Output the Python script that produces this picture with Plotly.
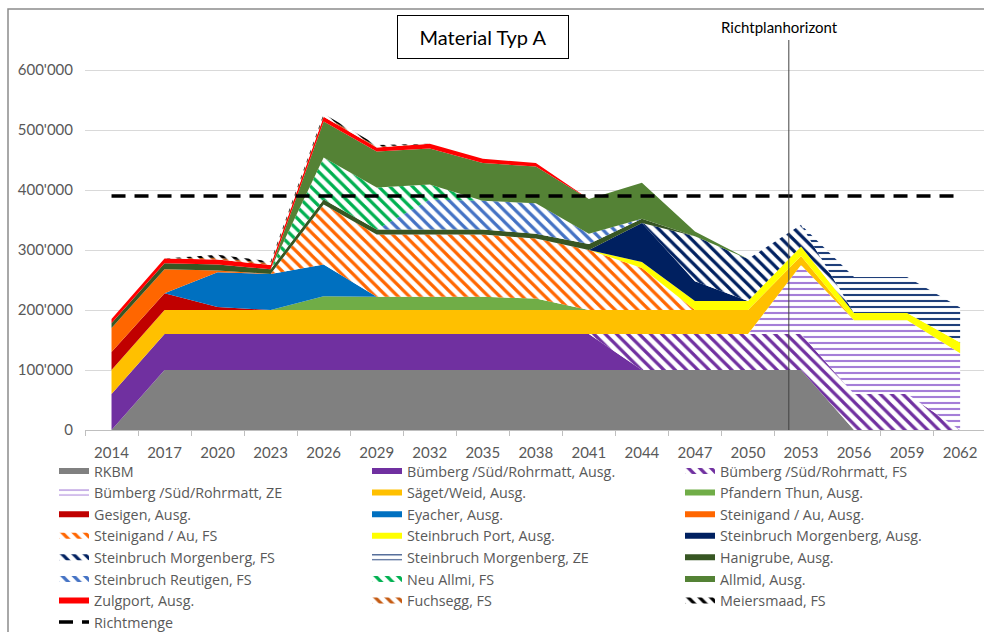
import plotly.graph_objects as go

years = ["2014", "2017", "2020", "2023", "2026", "2029", "2032", "2035", "2038",
         "2041", "2044", "2047", "2050", "2053", "2056", "2059", "2062"]

rkbm            = [0, 100000, 100000, 100000, 100000, 100000, 100000, 100000, 100000, 100000, 100000, 100000, 100000, 100000, 0, 0, 0]
bumberg_ausg    = [60000, 60000, 60000, 60000, 60000, 60000, 60000, 60000, 60000, 60000, 0, 0, 0, 0, 0, 0, 0]
bumberg_fs      = [0, 0, 0, 0, 0, 0, 0, 0, 0, 0, 60000, 60000, 60000, 60000, 60000, 60000, 0]
bumberg_ze      = [0, 0, 0, 0, 0, 0, 0, 0, 0, 0, 0, 0, 0, 115000, 123000, 123000, 128000]
saeget          = [40000, 40000, 40000, 40000, 40000, 40000, 40000, 40000, 40000, 40000, 40000, 40000, 40000, 15000, 0, 0, 0]
pfandern        = [0, 0, 0, 0, 23000, 22000, 22000, 22000, 19000, 0, 0, 0, 0, 0, 0, 0, 0]
gesigen         = [30000, 28000, 5000, 0, 0, 0, 0, 0, 0, 0, 0, 0, 0, 0, 0, 0, 0]
eyacher         = [0, 0, 58000, 60000, 53000, 0, 0, 0, 0, 0, 0, 0, 0, 0, 0, 0, 0]
steinigand_ausg = [40000, 40000, 3000, 0, 0, 0, 0, 0, 0, 0, 0, 0, 0, 0, 0, 0, 0]
steinigand_fs   = [0, 0, 0, 0, 100000, 104000, 104000, 104000, 100000, 100000, 70000, 0, 0, 0, 0, 0, 0]
port            = [0, 0, 0, 0, 0, 0, 0, 0, 0, 0, 10000, 15000, 15000, 16000, 12000, 12000, 18000]
morg_ausg       = [0, 0, 0, 0, 0, 0, 0, 0, 0, 0, 65000, 33000, 0, 0, 0, 0, 0]
morg_fs         = [0, 0, 0, 0, 0, 0, 0, 0, 0, 0, 0, 75000, 70000, 36000, 0, 0, 0]
morg_ze         = [0, 0, 0, 0, 0, 0, 0, 0, 0, 0, 0, 0, 0, 0, 60000, 60000, 58000]
hanigrube       = [8000, 10000, 10000, 8000, 8000, 8000, 8000, 8000, 8000, 10000, 7000, 0, 0, 0, 0, 0, 0]
reutigen        = [0, 0, 0, 0, 0, 0, 50000, 48000, 51000, 17000, 0, 0, 0, 0, 0, 0, 0]
neu_allmi       = [0, 0, 0, 0, 70000, 70000, 25000, 0, 0, 0, 0, 0, 0, 0, 0, 0, 0]
allmid          = [0, 0, 0, 0, 60000, 60000, 60000, 63000, 61000, 58000, 60000, 8000, 0, 0, 0, 0, 0]
zulgport        = [7000, 8000, 8000, 7000, 8000, 7000, 8000, 7000, 6000, 0, 0, 0, 0, 0, 0, 0, 0]
fuchsegg        = [0, 0, 3000, 3000, 2000, 1000, 0, 0, 0, 0, 0, 0, 0, 0, 0, 0, 0]
meiersmaad      = [0, 0, 5000, 3000, 3000, 3000, 0, 0, 0, 0, 0, 0, 0, 0, 0, 0, 0]
richtmenge      = [390000, 390000, 390000, 390000, 390000, 390000, 390000, 390000, 390000,
                   390000, 390000, 390000, 390000, 390000, 390000, 390000, 390000]

series = [
    ("RKBM", rkbm, "#808080", None),
    ("Bümberg /Süd/Rohrmatt, Ausg.", bumberg_ausg, "#7030A0", None),
    ("Bümberg /Süd/Rohrmatt, FS", bumberg_fs, "#7030A0", "\\"),
    ("Bümberg /Süd/Rohrmatt, ZE", bumberg_ze, "#A57ED8", "-"),
    ("Säget/Weid, Ausg.", saeget, "#FFC000", None),
    ("Pfandern Thun, Ausg.", pfandern, "#70AD47", None),
    ("Gesigen, Ausg.", gesigen, "#C00000", None),
    ("Eyacher, Ausg.", eyacher, "#0070C0", None),
    ("Steinigand / Au, Ausg.", steinigand_ausg, "#FF6600", None),
    ("Steinigand / Au, FS", steinigand_fs, "#FF6600", "\\"),
    ("Steinbruch Port, Ausg.", port, "#FFFF00", None),
    ("Steinbruch Morgenberg, Ausg.", morg_ausg, "#002060", None),
    ("Steinbruch Morgenberg, FS", morg_fs, "#002060", "\\"),
    ("Steinbruch Morgenberg, ZE", morg_ze, "#1F3F7A", "-"),
    ("Hanigrube, Ausg.", hanigrube, "#375623", None),
    ("Steinbruch Reutigen, FS", reutigen, "#4472C4", "\\"),
    ("Neu Allmi, FS", neu_allmi, "#00B050", "\\"),
    ("Allmid, Ausg.", allmid, "#548235", None),
    ("Zulgport, Ausg.", zulgport, "#FF0000", None),
    ("Fuchsegg, FS", fuchsegg, "#C55A11", "\\"),
    ("Meiersmaad, FS", meiersmaad, "#000000", "\\"),
]

fig = go.Figure()
for i, (name, vals, color, pat) in enumerate(series):
    kw = dict(x=years, y=vals, name=name, mode="none", stackgroup="one",
              hoverinfo="name+y", legend="legend")
    if i % 3 == 2:
        kw["legendwidth"] = 200   # last column: keeps legend box inside figure
    if pat is None:
        kw["fillcolor"] = color
    else:
        kw["fillcolor"] = "white"
        if pat == "-":
            kw["fillpattern"] = dict(shape="-", fgcolor=color, bgcolor="white",
                                     size=6, solidity=0.35, fillmode="replace",
                                     fgopacity=1)
        else:
            kw["fillpattern"] = dict(shape="\\", fgcolor=color, bgcolor="white",
                                     size=8, solidity=0.4, fillmode="replace",
                                     fgopacity=1)
    fig.add_trace(go.Scatter(**kw))

fig.add_trace(go.Scatter(x=years, y=richtmenge, name="Richtmenge", mode="lines",
                         legend="legend2",
                         line=dict(color="black", width=3.5, dash="14px,9px")))

tick_font = "Lato, 'Open Sans', sans-serif"
leg_font = "'Open Sans', Lato, sans-serif"
leg_x = (54 - 85) / 899
fig.update_layout(
    width=984, height=632,
    margin=dict(l=85, r=0, t=40, b=202),
    paper_bgcolor="white", plot_bgcolor="white",
    separators=".'",
    font=dict(family=tick_font, size=15, color="#595959"),
    showlegend=True,
    legend=dict(orientation="h", xref="paper", yref="paper",
                x=leg_x, xanchor="left",
                y=(430 - 455.2) / 390, yanchor="top",
                entrywidth=268, entrywidthmode="pixels", traceorder="normal",
                font=dict(family=leg_font, size=14.3, color="#595959"),
                itemsizing="constant", tracegroupgap=0, bgcolor="rgba(0,0,0,0)"),
    legend2=dict(orientation="h", xref="paper", yref="container",
                 x=leg_x, xanchor="left",
                 y=1 - 606.2 / 632, yanchor="top",
                 font=dict(family=leg_font, size=14.3, color="#595959"),
                 bgcolor="rgba(0,0,0,0)"),
    xaxis=dict(type="category", range=[-0.5, 16.45], showgrid=False,
               showline=True, linecolor="#BFBFBF", linewidth=1, automargin=False,
               ticks="outside", tickson="boundaries", ticklen=5, tickcolor="#BFBFBF",
               ticklabelstandoff=9,
               tickfont=dict(size=15, color="#595959")),
    yaxis=dict(range=[0, 650000], dtick=100000, tickformat=",d", automargin=False,
               showgrid=True, gridcolor="#D9D9D9", gridwidth=1,
               zeroline=False, showline=False, ticks="", ticklabelstandoff=11,
               tickfont=dict(size=15, color="#595959")),
)

# Richtplanhorizont vertical line
fig.add_shape(type="line", xref="x", yref="paper", x0=12.77, x1=12.77, y0=0, y1=1,
              line=dict(color="#404040", width=1))
fig.add_annotation(text="Richtplanhorizont", xref="x", yref="paper", x=12.6,
                   y=(430 - 27) / 390, showarrow=False, yanchor="middle",
                   font=dict(family=tick_font, size=15, color="black"))

# Title box
fig.add_annotation(text="Material Typ A", xref="paper", yref="paper",
                   x=(482.5 - 85) / 899, y=(430 - 36.5) / 390, showarrow=False,
                   xanchor="center", yanchor="middle", width=168, height=40,
                   bordercolor="black", borderwidth=1, bgcolor="white",
                   font=dict(family=tick_font, size=20, color="black"))

# outer chart frame
fig.add_shape(type="rect", xref="paper", yref="paper",
              x0=(8 - 85) / 899, x1=1.2, y0=-1.0, y1=(430 - 9) / 390,
              line=dict(color="#8C8C8C", width=1.5), layer="below")

fig.write_html("out.html", config={"displayModeBar": False},
               post_script="document.body.style.margin='0';")
